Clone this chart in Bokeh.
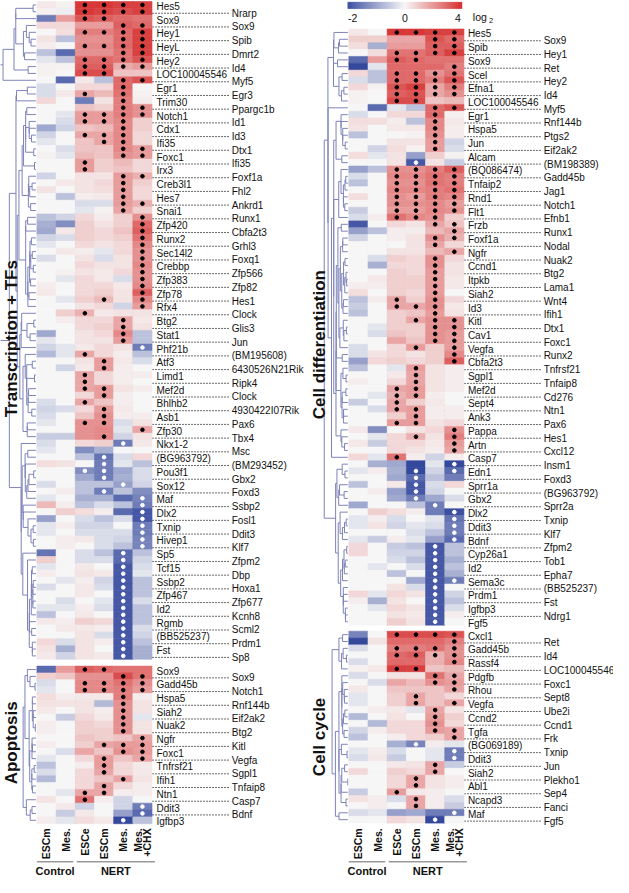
import numpy as np
from bokeh.plotting import figure
from bokeh.models import Range1d, ColumnDataSource, LinearColorMapper
from bokeh.transform import transform
from bokeh.core.properties import value
from bokeh.embed import file_html
from bokeh.resources import INLINE

# ---------------- data ----------------
columns = ["ESCm", "Mes.", "ESCe", "ESCm", "Mes.", "Mes.\n+CHX"]
groups = [("Control", 0, 1), ("NERT", 2, 5)]
cbar_ticks = [-2, 0, 4]

trans_genes = ["Hes5","Nrarp","Sox9","Sox9","Hey1","Spib","HeyL","Dmrt2","Hey2","Id4","LOC100045546","Myf5",
    "Egr1","Egr3","Trim30","Ppargc1b","Notch1","Id1","Cdx1","Id3","Ifi35","Dtx1","Foxc1","Ifi35","Irx3","Foxf1a",
    "Creb3l1","Fhl2","Hes7","Ankrd1","Snai1","Runx1","Zfp420","Cbfa2t3","Runx2","Grhl3","Sec14l2","Foxq1","Crebbp",
    "Zfp566","Zfp383","Zfp82","Zfp78","Hes1","Rfx4","Clock","Btg2","Glis3","Stat1","Jun","Phf21b","(BM195608)",
    "Atf3","6430526N21Rik","Limd1","Ripk4","Mef2d","Clock","Bhlhb2","4930422I07Rik","Asb1","Pax6","Zfp30","Tbx4",
    "Nkx1-2","Msc","(BG963792)","(BM293452)","Pou3f1","Gbx2","Sox12","Foxd3","Maf","Ssbp2","Dlx2","Fosl1","Txnip",
    "Ddit3","Hivep1","Klf7","Sp5","Zfpm2","Tcf15","Dbp","Ssbp2","Hoxa1","Zfp467","Zfp677","Id2","Kcnh8","Rgmb",
    "Scml2","(BB525237)","Prdm1","Fst","Sp8"]
trans_vals = [
    [0.3,0.1,3.8,3.8,3.6,3.6],[0.1,-0.1,3.8,3.6,3.4,3.6],[-1.4,1.8,3.2,3.0,2.8,2.6],[0.6,0.6,1.8,1.8,3.0,2.8],
    [0.0,0.5,2.4,2.4,2.8,3.6],[0.4,-0.6,2.0,2.0,2.8,3.6],[0.2,0.0,2.2,2.2,2.8,3.6],[-0.6,-1.6,2.0,2.0,2.6,3.6],
    [-0.2,-0.6,2.8,2.8,2.6,3.2],[0.1,0.1,3.0,3.0,1.5,1.8],[0.1,0.0,3.4,3.4,1.0,1.0],[0.0,-1.6,0.3,-0.6,2.8,3.2],
    [-0.3,0.0,0.6,0.6,2.8,0.0],[-0.3,0.3,1.6,1.2,2.6,0.1],[0.6,0.0,-1.4,0.4,2.4,0.2],[0.0,0.0,1.0,0.8,2.4,2.0],
    [0.0,-0.2,1.8,1.8,2.4,2.0],[0.0,-0.3,1.8,1.8,2.2,0.8],[-0.9,-0.4,1.0,1.2,2.2,0.8],[-0.4,0.0,1.6,1.6,2.2,0.6],
    [-0.2,0.0,1.0,1.6,2.2,0.6],[0.0,-0.3,1.0,1.0,2.2,1.8],[0.1,-0.2,1.2,1.0,2.0,1.8],[0.0,0.0,1.8,0.8,1.2,0.6],
    [0.0,0.0,1.8,0.8,1.0,0.6],[-0.4,0.0,0.4,0.4,1.8,1.4],[0.0,0.3,0.4,0.6,1.8,0.8],[0.4,0.0,0.4,0.5,1.8,0.6],
    [0.0,-0.6,0.2,0.3,1.8,0.6],[0.0,0.0,-0.3,-0.3,1.8,1.4],[0.0,0.0,-0.2,0.1,1.6,0.8],[-0.6,-0.4,0.6,0.2,0.8,2.0],
    [-0.8,-1.2,0.8,0.4,0.8,2.8],[-0.9,0.3,0.8,0.6,1.0,3.0],[-0.4,-0.3,0.8,0.6,0.8,2.6],[-0.2,0.0,0.6,0.4,0.6,2.2],
    [0.0,0.3,0.2,-0.2,0.6,2.0],[-0.3,0.0,0.4,-0.3,0.4,2.0],[0.0,0.0,0.6,0.4,0.4,2.2],[0.0,0.1,0.4,0.3,0.6,2.0],
    [0.0,-0.2,0.6,0.3,-0.3,2.0],[0.2,0.0,0.6,0.6,0.3,2.2],[0.3,0.0,0.6,0.8,0.4,3.0],[0.0,-0.2,0.8,1.2,0.4,2.2],
    [0.0,0.0,0.4,0.6,-0.4,1.8],[0.0,0.8,1.4,0.3,0.4,0.4],[0.0,0.2,0.6,0.6,1.6,0.3],[0.0,0.0,0.6,0.8,1.6,0.4],
    [-0.9,0.0,0.4,0.6,2.2,-0.6],[-0.2,0.0,0.4,0.4,1.8,-0.6],[-0.4,-0.2,0.3,0.6,0.4,-1.4],[-0.7,-0.2,1.6,0.6,0.2,-0.6],
    [0.0,0.0,0.4,1.8,0.3,-0.3],[0.0,-0.4,0.3,1.8,0.2,0.0],[0.0,0.0,1.6,0.6,0.2,0.2],[0.0,0.0,1.6,0.6,0.2,0.0],
    [0.0,0.0,1.6,1.8,0.4,0.2],[0.0,0.0,0.6,1.8,0.2,0.0],[-0.3,0.0,1.6,1.0,0.2,0.0],[-0.4,-0.3,0.6,1.8,0.3,0.0],
    [-0.3,0.0,1.0,2.0,0.2,0.2],[-0.2,0.0,2.0,2.0,-0.3,0.4],[0.0,0.0,2.0,2.2,-0.2,1.6],[-0.5,-0.5,2.0,2.2,-0.4,0.4],
    [-0.3,0.0,0.6,0.8,-1.4,0.3],[-0.2,0.0,-1.2,-0.8,0.0,0.0],[0.0,0.0,-0.6,-1.5,-0.3,0.6],[0.5,0.4,0.0,-1.4,-0.2,-0.6],
    [0.0,0.0,-1.2,-1.4,-0.9,-0.3],[0.0,0.0,-0.9,-1.4,-0.8,-0.3],[-0.3,0.0,-0.6,-0.6,-1.0,-0.4],[0.0,0.2,-0.6,-1.4,-0.6,-1.2],
    [-0.2,0.0,-0.8,-0.8,-1.6,-1.3],[1.2,0.2,-0.6,-0.3,-0.6,-1.4],[0.0,0.8,0.5,0.2,-1.6,-1.8],[-1.0,0.0,-0.3,-0.6,-0.3,-1.8],
    [-0.2,0.2,-0.4,-0.4,0.0,-1.4],[-0.2,0.0,-0.3,-0.3,-0.3,-1.4],[0.0,0.2,0.3,-0.3,-0.4,-1.3],[0.0,0.2,0.0,-0.3,-0.6,-1.3],
    [-1.5,0.0,-0.3,-0.6,-1.6,-0.6],[0.8,0.0,-0.3,-0.3,-1.6,-0.4],[-0.2,0.0,0.3,0.0,-1.8,-0.3],[0.2,0.0,0.4,0.3,-1.8,-0.2],
    [0.0,-0.2,0.2,-0.4,-1.8,-0.6],[-0.3,0.0,0.3,-0.3,-1.8,-0.6],[0.0,0.0,0.3,0.0,-1.8,-0.6],[0.0,-0.3,0.0,-0.2,-1.8,-0.3],
    [-0.2,-0.2,0.2,-0.3,-1.8,-0.6],[-0.6,0.0,0.3,0.0,-1.8,-0.6],[0.3,0.2,0.8,0.6,-1.8,-0.6],[0.0,0.3,0.3,0.2,-1.8,-0.3],
    [0.0,0.0,0.4,-0.3,-1.8,-0.4],[0.6,-0.3,0.4,0.2,-1.8,-0.6],[0.4,-0.8,0.4,0.0,-1.8,-0.8],[0.3,-0.4,0.4,0.3,-1.8,-0.8]]
trans_sig = ["..bbbb","..bbbb","..bb..","....bb","..bbbb","....bb","..bbbb","....bb","..bbbb","..bbbb","..bb..",
    "....bb","....b.","..b.b.","....b.","....bb","..bbbb","..bbb.","....b.","..bbb.","...bb.","....bb","....bb",
    "..b...","..b...","....bb","....b.","....b.","....b.","....bb","....b.",".....b",".....b",".....b",".....b",
    ".....b",".....b",".....b",".....b",".....b",".....b",".....b",".....b","...b.b",".....b","..b...","....b.",
    "....b.","....b.","....b.",".....w","..b...","...b..","...b..","..b...","..b...","..bb..","...b..","..b...",
    "...b..","...b..","..bb..",".....b","...b..","....w.","......","...w..","...w..","..ww..","...w..","....w.",
    "...w..",".....w",".....w",".....w",".....w",".....w",".....w",".....w",".....w","....w.","....w.","....w.",
    "....w.","....w.","....w.","....w.","....w.","....w.","....w.","....w.","....w.","....w.","....w.","....w.",
    "....w."]

apop_genes = ["Sox9","Sox9","Gadd45b","Notch1","Hspa5","Rnf144b","Siah2","Eif2ak2","Nuak2","Btg2","Ngfr","Kitl",
    "Foxc1","Vegfa","Tnfrsf21","Sgpl1","Ifih1","Tnfaip8","Ntn1","Casp7","Ddit3","Bdnf","Igfbp3"]
apop_vals = [
    [-1.6,1.8,3.0,2.8,2.6,2.6],[0.8,1.0,2.0,2.0,3.4,2.6],[-0.3,0.0,2.2,2.2,2.6,2.0],[-0.2,0.0,2.2,2.2,2.4,1.8],
    [0.5,0.2,0.3,0.3,2.4,0.2],[0.4,0.4,0.4,-0.7,2.0,0.4],[0.3,0.0,0.4,0.2,2.0,0.4],[0.0,-0.5,0.6,0.3,2.0,-0.2],
    [0.2,0.0,0.8,0.6,2.0,0.4],[0.2,0.0,0.8,0.8,2.0,0.4],[0.0,0.0,1.0,0.8,1.0,1.6],[0.2,0.0,0.8,1.6,1.8,1.8],
    [0.0,-0.3,1.6,1.0,2.0,1.8],[-0.2,0.0,0.6,1.8,1.0,1.6],[-0.6,0.0,0.2,1.8,0.6,0.3],[-0.3,0.0,0.6,1.6,0.6,0.3],
    [-0.7,0.0,0.6,1.0,1.6,0.4],[0.0,0.0,0.6,1.6,0.6,0.2],[0.0,-0.2,1.6,1.6,0.2,0.2],[0.4,0.0,2.6,0.2,-0.4,0.0],
    [0.0,0.3,-0.4,0.0,-0.4,-1.4],[0.0,-0.5,0.3,0.0,-1.0,-1.6],[0.2,-0.2,0.5,0.3,-2.0,-0.6]]
apop_sig = ["..bb..","....bb","..bbbb","..bbbb","....b.","....b.","....b.","....b.","....b.","....b.",".....b",
    "...bbb","....bb","...b.b","...b..","...b..","....b.","...b..","..bb..","..b...",".....w",".....w","....w."]

diff_genes = ["Hes5","Sox9","Spib","Hey1","Sox9","Ret","Scel","Hey2","Efna1","Id4","LOC100045546","Myf5","Egr1",
    "Rnf144b","Hspa5","Ptgs2","Jun","Eif2ak2","Alcam","(BM198389)","(BQ086474)","Gadd45b","Tnfaip2","Jag1","Rnd1",
    "Notch1","Flt1","Efnb1","Frzb","Runx1","Foxf1a","Nodal","Ngfr","Nuak2","Ccnd1","Btg2","Itpkb","Lama1","Siah2",
    "Wnt4","Id3","Ifih1","Kitl","Dtx1","Cav1","Foxc1","Vegfa","Runx2","Cbfa2t3","Tnfrsf21","Sgpl1","Tnfaip8",
    "Mef2d","Cd276","Sept4","Ntn1","Ank3","Pax6","Pappa","Hes1","Artn","Cxcl12","Casp7","Insm1","Edn1","Foxd3",
    "Sprr1a","(BG963792)","Gbx2","Sprr2a","Dlx2","Txnip","Ddit3","Klf7","Bdnf","Zfpm2","Cyp26a1","Tob1","Id2",
    "Epha7","Sema3c","(BB525237)","Prdm1","Fst","Igfbp3","Ndrg1","Fgf5"]
diff_vals = [
    [0.3,0.0,3.8,3.8,3.6,3.6],[0.8,0.8,1.6,1.6,3.2,2.8],[0.5,-0.8,1.8,1.8,3.0,3.0],[0.0,0.5,2.6,2.6,3.0,3.6],
    [-1.6,1.8,3.0,2.8,2.6,2.6],[-2.0,-0.2,2.8,2.8,2.8,2.4],[0.6,-0.6,2.8,2.8,2.0,2.6],[-0.3,-0.6,2.8,2.8,2.4,3.2],
    [0.6,0.1,3.2,3.6,1.6,2.4],[0.1,0.0,3.0,3.2,1.6,2.0],[0.1,0.0,3.4,3.4,1.0,1.2],[0.0,-1.6,-0.2,-0.6,2.8,3.2],
    [-0.3,0.0,0.6,0.6,2.8,0.1],[0.5,0.5,0.2,-0.6,2.2,0.3],[0.4,0.0,0.3,0.3,2.2,0.2],[-0.6,0.0,0.0,0.1,2.0,0.2],
    [0.0,0.0,0.4,0.4,1.8,-0.4],[0.0,-0.4,0.5,0.1,1.8,-0.3],[0.5,-0.2,0.4,-1.0,0.8,0.1],[0.0,0.0,0.4,-1.8,0.4,-0.5],
    [-1.0,-0.6,2.0,2.0,2.4,3.0],[-0.3,0.0,2.2,2.2,2.6,2.4],[-0.6,0.0,2.0,2.0,2.6,2.4],[0.0,0.0,2.2,2.2,2.4,2.6],
    [0.5,0.0,2.0,1.8,2.4,2.2],[0.0,0.0,2.0,2.0,2.2,1.8],[-0.5,0.0,1.8,1.8,2.2,2.0],[-0.3,0.2,2.6,2.2,2.0,0.8],
    [-1.8,0.0,0.6,0.4,1.6,1.0],[-1.0,-0.6,0.2,0.2,1.2,1.6],[-0.4,0.0,0.2,0.4,2.0,1.4],[0.0,0.0,0.0,0.4,1.6,0.6],
    [0.0,0.0,0.4,0.4,1.2,1.6],[0.0,-0.3,0.8,0.6,2.0,0.6],[0.0,-0.8,0.6,0.6,2.0,0.4],[0.0,0.0,0.8,0.6,1.8,0.4],
    [0.0,0.3,0.8,0.8,1.8,0.3],[0.2,0.2,0.8,0.8,1.8,0.3],[0.5,0.0,0.8,0.6,1.8,0.0],[-0.6,0.2,1.6,0.8,2.0,0.6],
    [-0.5,0.0,1.6,1.6,2.0,0.3],[-0.6,0.0,0.8,1.0,1.8,0.4],[0.0,0.0,0.8,1.6,2.0,2.0],[0.0,-0.2,0.8,0.8,2.0,2.0],
    [0.0,-0.3,1.0,0.8,2.0,1.8],[0.0,0.0,1.6,1.0,2.0,1.8],[-0.3,0.0,0.6,1.8,0.8,1.8],[-0.3,0.4,0.6,0.4,0.8,2.2],
    [-1.0,0.6,0.8,0.6,0.8,3.0],[-0.6,0.0,-0.2,1.8,0.4,0.2],[0.0,0.0,0.3,1.6,0.4,0.2],[0.2,0.0,0.6,1.6,0.4,0.2],
    [0.0,0.0,1.6,1.8,0.4,0.2],[0.0,-0.2,1.4,1.8,0.2,0.0],[-0.5,0.0,1.6,0.8,0.3,0.0],[0.0,-0.3,1.6,1.8,0.2,0.2],
    [0.0,0.0,0.8,1.8,0.2,0.2],[0.0,0.0,1.8,1.8,0.4,0.6],[0.3,-1.2,0.0,0.4,0.6,2.0],[0.0,-0.2,0.6,1.4,0.4,2.4],
    [0.3,-0.5,0.6,0.6,0.3,1.8],[0.0,0.0,0.6,0.4,0.2,1.6],[0.6,-0.2,2.6,0.2,-0.4,0.2],[0.0,-0.8,-0.9,-2.0,-0.2,-2.0],
    [-0.2,0.2,-0.8,-2.0,-0.4,-1.6],[0.0,0.0,-0.9,-1.6,-0.6,-1.4],[-0.6,0.0,0.3,-1.8,-0.3,0.6],[0.0,0.2,-1.0,-1.8,-0.4,0.0],
    [0.0,0.0,-0.9,-1.4,-0.9,-0.3],[-0.9,0.0,0.0,-0.6,-1.4,0.0],[0.0,0.8,0.5,0.2,-1.4,-1.9],[-0.2,0.2,-0.3,0.0,-0.2,-1.5],
    [-0.2,0.4,-0.4,-0.2,-0.3,-1.4],[0.0,0.0,0.0,-0.3,-0.6,-1.4],[-0.2,-0.5,0.2,-0.2,-1.0,-1.6],[0.6,0.0,-0.5,-0.6,-1.8,-0.6],
    [0.6,0.0,-0.4,-0.4,-1.8,-0.6],[0.0,0.0,-0.3,-0.6,-1.8,-0.8],[0.0,-0.2,0.0,-0.3,-1.8,-0.6],[0.0,0.0,-0.6,0.0,-1.8,-0.8],
    [0.0,0.0,0.0,-0.9,-1.8,-1.4],[0.0,0.0,0.4,-0.3,-1.8,0.0],[0.6,-0.2,0.6,0.4,-1.8,-0.4],[0.2,-0.8,0.4,0.0,-1.8,-0.6],
    [0.0,-0.2,0.6,0.4,-1.8,-0.3],[0.0,0.0,0.4,0.3,-1.8,0.2],[0.0,0.0,0.8,0.4,-1.8,0.0]]
diff_sig = ["..bbbb","....bb","....bb","..bbbb","..bb..",".....b","..bbbb","..bbbb","..bbbb","..bbbb","..bb..",
    "....bb","....b.","....b.","....b.","....b.","....b.","....b.","......","...w..","..bbbb","..bbbb","..bbbb",
    "..bbbb","..bbbb","..bbbb","..bbbb","..bbb.","....bb",".....b","....bb","....b.",".....b","....b.","....b.",
    "....b.","....b.","....b.","....b.","..b.b.","..bbb.","....b.","...bbb","....bb","....bb","....bb","...b.b",
    ".....b",".....b","...b..","...b..","...b..","..bb..","..bb..","..b...","..bb..","...b..","..bb..",".....b",
    "...b.b",".....b",".....b","..b...",".....w","...w.w","...w..","...w..","...w..","...w..","....w.",".....w",
    ".....w",".....w",".....w",".....w","....w.","....w.","....w.","....w.","....w.","....ww","....w.","....w.",
    "....w.","....w.","....w.","....w."]

cyc_genes = ["Cxcl1","Ret","Gadd45b","Id4","Rassf4","LOC100045546","Pdgfb","Foxc1","Rhou","Sept8","Vegfa","Ube2i",
    "Ccnd2","Ccnd1","Tgfa","Frk","(BG069189)","Txnip","Ddit3","Jun","Siah2","Plekho1","Abl1","Sep4","Ncapd3",
    "Fanci","Maf","Fgf5"]
cyc_vals = [
    [-1.3,0.0,3.4,3.4,3.4,3.2],[-2.0,0.4,2.8,2.8,2.8,2.4],[-0.3,0.0,2.4,2.4,2.6,2.0],[0.0,0.0,2.8,3.0,1.4,2.0],
    [-0.3,0.0,2.8,2.8,1.4,2.2],[0.1,0.3,3.6,3.6,1.0,1.2],[-0.3,0.0,0.4,0.4,2.6,1.6],[0.0,-0.3,1.6,1.2,2.0,1.8],
    [0.3,0.0,1.0,1.0,1.0,1.6],[-0.2,0.0,0.8,1.6,1.0,0.6],[-0.2,0.0,0.8,1.6,1.0,1.6],[0.0,0.2,0.3,-0.2,1.6,0.4],
    [-0.7,0.0,0.4,0.0,1.8,0.8],[0.0,-0.7,0.6,0.6,2.0,0.6],[-0.4,0.2,0.6,0.6,1.8,1.6],[-0.6,0.0,0.2,0.6,0.8,1.6],
    [0.0,0.0,-0.8,-1.3,0.2,-0.2],[-0.2,0.2,-0.3,0.0,-0.2,-1.4],[-0.3,0.3,-0.5,0.0,-0.2,-1.4],[0.0,0.0,0.3,0.4,1.6,-0.5],
    [0.6,0.0,0.8,0.6,1.6,0.0],[0.0,0.0,0.6,1.6,0.4,0.2],[0.0,0.0,0.6,1.6,0.4,0.2],[-0.5,0.0,1.8,0.3,0.2,0.0],
    [0.4,0.2,-0.3,1.6,0.2,-0.3],[0.0,0.2,0.0,1.6,0.2,-0.5],[-0.3,-0.2,-1.0,-0.9,-1.4,-1.4],[0.0,0.0,0.6,0.4,-2.0,0.0]]
cyc_sig = ["..bbbb",".....b","..bbbb","..bbbb",".....b","..bb..","....bb","....bb",".....b","...b..","...b.b",
    "....b.","....b.","....b.","....bb",".....b","...w..",".....w",".....w","....b.","....b.","...b..","...b..",
    "..b...","...b..","...b..",".....w","....w."]

# ---------------- layout ----------------
CW, RH = 19.5, 6.97
LEFT = dict(x0=40.0, lab_l=161.5, lab_r=238.0, lead_end=236.0)
RIGHT = dict(x0=357.0, lab_l=478.0, lab_r=555.0, lead_end=553.0)
panels = [
    (trans_genes, trans_vals, trans_sig, LEFT, 2.0, 38.0, "Transcription + TFs", 14.0, 345.0),
    (apop_genes, apop_vals, apop_sig, LEFT, 678.0, 13.0, "Apoptosis", 14.0, 756.0),
    (diff_genes, diff_vals, diff_sig, RIGHT, 30.0, 24.0, "Cell differentiation", 327.0, 351.0),
    (cyc_genes, cyc_vals, cyc_sig, RIGHT, 642.5, 16.0, "Cell cycle", 327.0, 750.0),
]
FONT = value("Liberation Sans")

def hexc(c):
    return "#%02x%02x%02x" % tuple(int(round(v)) for v in c)

blue, white, red = np.array([52, 72, 156]), np.array([247, 247, 247]), np.array([214, 46, 46])
palette = []
for i in range(256):
    t = i / 255 * 2 - 1
    c = white + (blue - white) * (-t) if t < 0 else white + (red - white) * t
    palette.append(hexc(c))
mapper = LinearColorMapper(palette=palette, low=-1, high=1)

def norm(v):
    return max(-1.0, min(1.0, v / 2.0 if v < 0 else v / 4.0))

p = figure(width=613, height=877, x_range=Range1d(3, 626), y_range=Range1d(893, 1),
           output_backend="svg", toolbar_location=None, min_border=0,
           x_axis_type=None, y_axis_type=None)
p.grid.visible = False
p.outline_line_color = None
p.background_fill_color = "white"

DCOL = "#7e83b8"

def dendro(vals, ys, x_right, width):
    V = np.array(vals)
    n = len(V)
    D = np.sqrt(((V[:, None, :] - V[None, :, :]) ** 2).sum(-1))
    cl = [dict(m=[i], pos=ys[i], h=0.0) for i in range(n)]
    merges = []
    while len(cl) > 1:
        best = None
        for j in range(len(cl) - 1):
            d = D[np.ix_(cl[j]["m"], cl[j + 1]["m"])].mean()
            if best is None or d < best[0]:
                best = (d, j)
        d, j = best
        a, b = cl[j], cl[j + 1]
        h = max(d, a["h"], b["h"])
        merges.append((a["pos"], a["h"], b["pos"], b["h"], h))
        cl[j:j + 2] = [dict(m=a["m"] + b["m"], pos=(a["pos"] + b["pos"]) / 2, h=h)]
    H = merges[-1][4]
    X = lambda h: x_right - h / H * width
    x0s, y0s, x1s, y1s = [], [], [], []
    for pa, ha, pb, hb, h in merges:
        for (pp, hh) in ((pa, ha), (pb, hb)):
            x0s.append(X(hh)); y0s.append(pp); x1s.append(X(h)); y1s.append(pp)
        x0s.append(X(h)); y0s.append(pa); x1s.append(X(h)); y1s.append(pb)
    return x0s, y0s, x1s, y1s

cells = dict(x=[], y=[], n=[])
bdots = dict(x=[], y=[])
wdots = dict(x=[], y=[])
for genes, vals, sig, side, y0, dw, title, tx, ty in panels:
    x0 = side["x0"]
    ys = [y0 + (r + 0.5) * RH for r in range(len(genes))]
    for r, row in enumerate(vals):
        for c, v in enumerate(row):
            cells["x"].append(x0 + (c + 0.5) * CW)
            cells["y"].append(ys[r])
            cells["n"].append(norm(v))
            s = sig[r][c]
            if s == "b":
                bdots["x"].append(x0 + (c + 0.5) * CW); bdots["y"].append(ys[r])
            elif s == "w":
                wdots["x"].append(x0 + (c + 0.5) * CW); wdots["y"].append(ys[r])
    # dendrogram
    a, b, c_, d = dendro(vals, ys, x0 - 1.0, dw)
    p.segment(a, b, c_, d, line_color=DCOL, line_width=1)
    # vertical dashed separators
    ytop, ybot = y0, y0 + len(genes) * RH
    p.segment([x0 + 2 * CW, x0 + 5 * CW], [ytop, ytop], [x0 + 2 * CW, x0 + 5 * CW], [ybot, ybot],
              line_color="#222222", line_width=0.9, line_dash="3 2")
    # gene labels
    lx, ly, rx, ry, rt, lt = [], [], [], [], [], []
    for r, g in enumerate(genes):
        if r % 2 == 0:
            lx.append(side["lab_l"]); ly.append(ys[r] + 1.5); lt.append(g)
        else:
            rx.append(side["lab_r"]); ry.append(ys[r] + 1.5); rt.append(g)
    p.segment([x0 + 6 * CW] * len(ry), ry, [side["lead_end"]] * len(ry), ry,
              line_color="#444444", line_width=0.8, line_dash="2 1")
    p.text(lx, ly, text=lt, text_font=FONT, text_font_size="10px", text_baseline="middle",
           text_align="left", text_color="#111111")
    p.text(rx, ry, text=rt, text_font=FONT, text_font_size="10px", text_baseline="middle",
           text_align="left", text_color="#111111")
    # group title
    p.text([tx], [ty], text=[title], text_font=FONT, text_font_size="17px", text_font_style="bold",
           angle=np.pi / 2, text_align="center", text_baseline="middle", text_color="#111111")

src = ColumnDataSource(cells)
p.rect("x", "y", width=CW, height=RH, source=src, fill_color=transform("n", mapper),
       line_color=transform("n", mapper), line_width=0.6)
p.scatter(bdots["x"], bdots["y"], size=3.6, color="black")
p.scatter(wdots["x"], wdots["y"], size=3.6, color="white")

# column labels and group bars
for side in (LEFT, RIGHT):
    x0 = side["x0"]
    for i, lab in enumerate(columns):
        cx = x0 + (i + 0.5) * CW
        parts = lab.split("\n")
        offs = [0.0] if len(parts) == 1 else [-4.8, 4.8]
        for part, o in zip(parts, offs):
            p.text([cx + o], [843.0], text=[part], text_font=FONT, text_font_size="10.5px",
                   text_font_style="bold", angle=np.pi / 2, text_align="right",
                   text_baseline="middle", text_color="#111111")
    for name, i0, i1 in groups:
        xa = x0 + i0 * CW + (1.5 if i0 else 0.0)
        xb = x0 + (i1 + 1) * CW + (3.0 if i0 else -2.0)
        p.segment([xa], [877.0], [xb], [877.0], line_color="#9a9a9a", line_width=1.5)
        p.text([(xa + xb) / 2], [886.5], text=[name], text_font=FONT, text_font_size="11px",
               text_font_style="bold", text_align="center", text_baseline="middle", text_color="#111111")

# colour bar
cb_x0, cb_x1, cb_y = 356.0, 472.0, 6.0
nseg = 116
seg_w = (cb_x1 - cb_x0) / nseg
cb = dict(x=[cb_x0 + (k + 0.5) * seg_w for k in range(nseg)],
          n=[-1 + 2 * (k + 0.5) / nseg for k in range(nseg)])
p.rect("x", cb_y, width=seg_w, height=6.5, source=ColumnDataSource(cb),
       fill_color=transform("n", mapper), line_color=transform("n", mapper), line_width=0.5)
tick_x = [cb_x0 + (norm(t) + 1) / 2 * (cb_x1 - cb_x0) for t in cbar_ticks]
tick_x = [tick_x[0] + 5, tick_x[1], tick_x[2] - 4]
p.text(tick_x, [18.5] * 3, text=[str(t) for t in cbar_ticks], text_font=FONT, text_font_size="10.5px",
       text_align="center", text_baseline="middle", text_color="#111111")
p.text([483.0], [18.0], text=["log"], text_font=FONT, text_font_size="10.5px",
       text_align="left", text_baseline="middle", text_color="#111111")
p.text([499.5], [21.5], text=["2"], text_font=FONT, text_font_size="7.5px",
       text_align="left", text_baseline="middle", text_color="#111111")

open("out.html", "w").write(file_html(p, INLINE))
